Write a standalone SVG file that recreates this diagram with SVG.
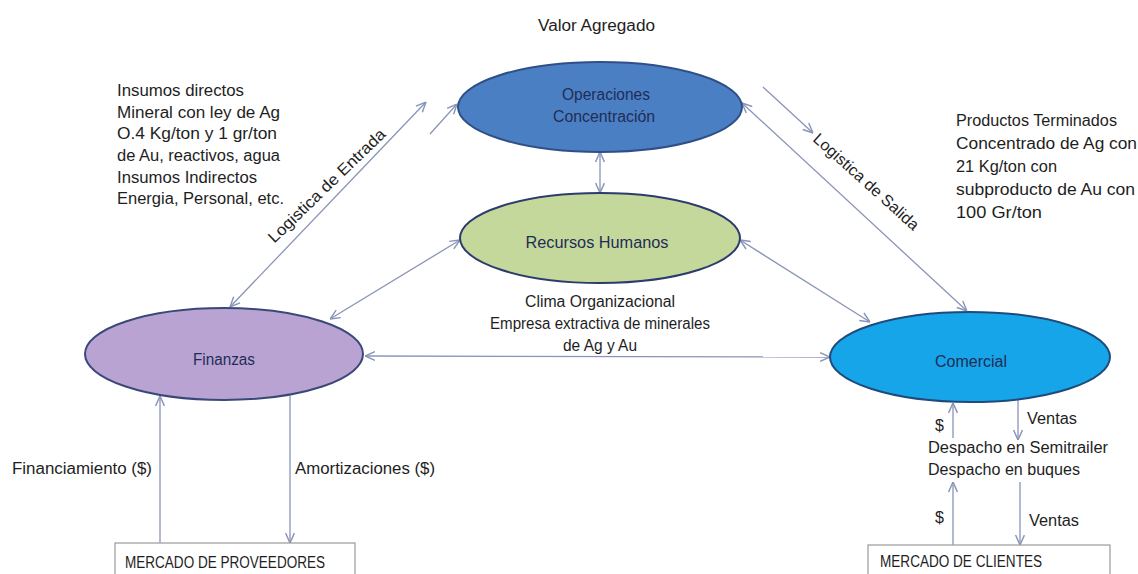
<svg xmlns="http://www.w3.org/2000/svg" width="1138" height="574" viewBox="0 0 1138 574">
  <style>
    text { font-family: "Liberation Sans", Arial, sans-serif; fill: #1e1e1e; font-size: 16px; }
    .node-label { fill: #1f2d55; text-anchor: middle; }
    .conn { stroke: #8a94b8; stroke-width: 1.3; fill: none; }
    .two { marker-start: url(#head); marker-end: url(#head); }
    .one { marker-end: url(#head); }
    .box { fill: #ffffff; stroke: #9a9a9a; stroke-width: 1.2; }
    .ell { stroke-width: 2; }
  </style>
  <defs>
    <marker id="head" viewBox="0 0 10 10" refX="10" refY="5" markerWidth="11" markerHeight="11" markerUnits="userSpaceOnUse" orient="auto-start-reverse">
      <path d="M1,1 L10,5 L1,9" fill="none" stroke="#8a94b8" stroke-width="1.3"/>
    </marker>
  </defs>

  <rect width="1138" height="574" fill="#ffffff"/>

  <!-- connectors -->
  <g id="connectors">
    <line class="conn two" x1="230" y1="307" x2="426" y2="102"/>
    <line class="conn one" x1="430" y1="134" x2="457" y2="104"/>
    <line class="conn two" x1="600" y1="152" x2="600" y2="193"/>
    <line class="conn two" x1="460" y1="240" x2="330" y2="319"/>
    <line class="conn two" x1="742" y1="103" x2="967" y2="311"/>
    <line class="conn one" x1="763" y1="87" x2="813" y2="133"/>
    <line class="conn two" x1="740" y1="240" x2="870" y2="322"/>
    <line class="conn two" x1="365" y1="356" x2="830" y2="357"/>
    <line class="conn one" x1="160" y1="543" x2="160" y2="396"/>
    <line class="conn one" x1="290" y1="396" x2="290" y2="543"/>
    <line class="conn one" x1="953" y1="438" x2="953" y2="403"/>
    <line class="conn one" x1="1018" y1="400" x2="1018" y2="440"/>
    <line class="conn one" x1="953" y1="547" x2="953" y2="482"/>
    <line class="conn one" x1="1020" y1="482" x2="1020" y2="545"/>
  </g>

  <!-- connector labels -->
  <text transform="translate(327,186) rotate(-44)" text-anchor="middle" y="5" textLength="156" lengthAdjust="spacingAndGlyphs">Logistica de Entrada</text>
  <text transform="translate(866,182) rotate(42)" text-anchor="middle" y="5" textLength="136" lengthAdjust="spacingAndGlyphs">Logistica de Salida</text>

  <g id="valor-agregado">
    <text x="538" y="31" textLength="117" lengthAdjust="spacingAndGlyphs">Valor Agregado</text>
  </g>

  <g id="operaciones">
    <ellipse class="ell" cx="600" cy="107" rx="142" ry="45" fill="#4b7fc4" stroke="#2f4f86"/>
    <text class="node-label" x="606" y="100" font-size="15" textLength="88" lengthAdjust="spacingAndGlyphs">Operaciones</text>
    <text class="node-label" x="604" y="122" font-size="15" textLength="102" lengthAdjust="spacingAndGlyphs">Concentración</text>
  </g>

  <g id="recursos-humanos">
    <ellipse class="ell" cx="600" cy="238" rx="140" ry="45" fill="#c4d89c" stroke="#2c3b6e"/>
    <text class="node-label" x="597" y="248" textLength="143" lengthAdjust="spacingAndGlyphs">Recursos Humanos</text>
  </g>

  <g id="finanzas">
    <ellipse class="ell" cx="224" cy="354" rx="139" ry="46" fill="#b9a3d3" stroke="#3a4878"/>
    <text class="node-label" x="224" y="365" textLength="62" lengthAdjust="spacingAndGlyphs">Finanzas</text>
  </g>

  <g id="comercial">
    <ellipse class="ell" cx="970" cy="357" rx="140" ry="45" fill="#16a5e8" stroke="#204a7c"/>
    <text class="node-label" x="971" y="367" textLength="72" lengthAdjust="spacingAndGlyphs">Comercial</text>
  </g>

  <g id="insumos">
    <text x="117" y="96" textLength="127" lengthAdjust="spacingAndGlyphs">Insumos  directos</text>
    <text x="117" y="118" textLength="163" lengthAdjust="spacingAndGlyphs">Mineral con ley de Ag</text>
    <text x="117" y="139" textLength="160" lengthAdjust="spacingAndGlyphs">O.4  Kg/ton y 1 gr/ton</text>
    <text x="117" y="161" textLength="163" lengthAdjust="spacingAndGlyphs">de Au, reactivos,  agua</text>
    <text x="117" y="183" textLength="140" lengthAdjust="spacingAndGlyphs">Insumos  Indirectos</text>
    <text x="117" y="204" textLength="167" lengthAdjust="spacingAndGlyphs">Energia, Personal,  etc.</text>
  </g>

  <g id="productos">
    <text x="956" y="126" textLength="161" lengthAdjust="spacingAndGlyphs">Productos  Terminados</text>
    <text x="956" y="149" textLength="181" lengthAdjust="spacingAndGlyphs">Concentrado de Ag  con</text>
    <text x="956" y="172" textLength="101" lengthAdjust="spacingAndGlyphs">21 Kg/ton con</text>
    <text x="956" y="195" textLength="179" lengthAdjust="spacingAndGlyphs">subproducto  de Au con</text>
    <text x="956" y="218" textLength="86" lengthAdjust="spacingAndGlyphs">100 Gr/ton</text>
  </g>

  <g id="clima">
    <text x="600" y="307" text-anchor="middle" textLength="150" lengthAdjust="spacingAndGlyphs">Clima  Organizacional</text>
    <text x="600" y="329" text-anchor="middle" textLength="220" lengthAdjust="spacingAndGlyphs">Empresa extractiva de minerales</text>
    <text x="600" y="351" text-anchor="middle" textLength="74" lengthAdjust="spacingAndGlyphs">de Ag y Au</text>
  </g>

  <g id="flujos-finanzas">
    <text x="12" y="474" textLength="140" lengthAdjust="spacingAndGlyphs">Financiamiento  ($)</text>
    <text x="295" y="474" textLength="140" lengthAdjust="spacingAndGlyphs">Amortizaciones ($)</text>
  </g>

  <g id="mercado-proveedores">
    <rect class="box" x="115" y="543" width="240" height="40"/>
    <text x="125" y="568" font-size="14" textLength="200" lengthAdjust="spacingAndGlyphs">MERCADO DE PROVEEDORES</text>
  </g>

  <g id="flujos-comercial">
    <text x="935" y="431">$</text>
    <text x="1027" y="424" textLength="50" lengthAdjust="spacingAndGlyphs">Ventas</text>
    <text x="928" y="453" textLength="180" lengthAdjust="spacingAndGlyphs">Despacho en Semitrailer</text>
    <text x="928" y="475" textLength="152" lengthAdjust="spacingAndGlyphs">Despacho en buques</text>
    <text x="935" y="523">$</text>
    <text x="1029" y="526" textLength="50" lengthAdjust="spacingAndGlyphs">Ventas</text>
  </g>

  <g id="mercado-clientes">
    <rect class="box" x="868" y="545" width="242" height="40"/>
    <text x="880" y="567" font-size="14" textLength="162" lengthAdjust="spacingAndGlyphs">MERCADO DE CLIENTES</text>
  </g>
</svg>
